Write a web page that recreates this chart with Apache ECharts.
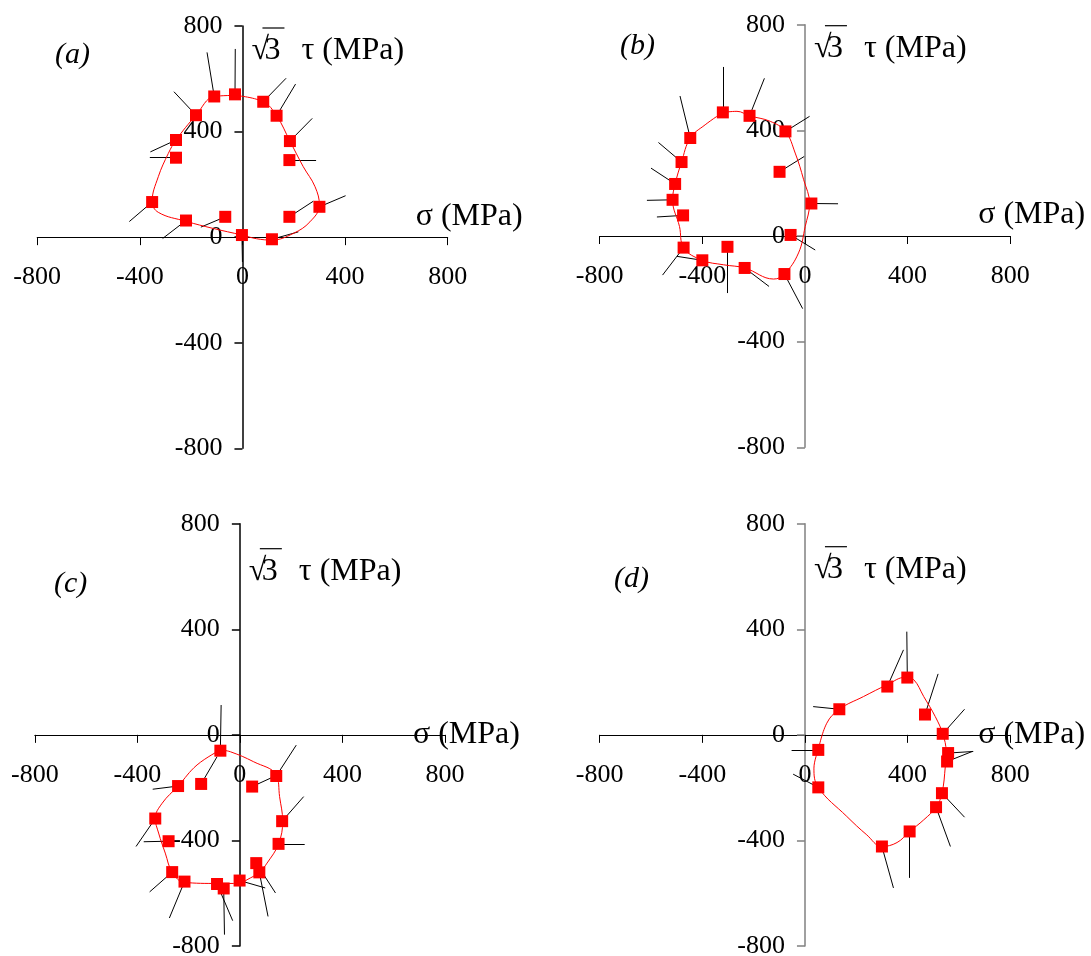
<!DOCTYPE html>
<html>
<head>
<meta charset="utf-8">
<script src="https://cdn.jsdelivr.net/npm/echarts@6/dist/echarts.min.js"></script>
<style>
html,body{margin:0;padding:0;background:#fff;}
#chart{width:1091px;height:956px;}
</style>
</head>
<body>
<div id="chart"></div>
<script>
// ---------- data (σ, √3τ) in MPa ----------
const axisTicks = [-800, -400, 0, 400, 800];
const panelLabels = ['(a)', '(b)', '(c)', '(d)'];

// Panel (a)
const aPoints = [[-29,541],[-110,533],[-181,462],[-259,368],[-259,301],[-352,133],[-220,63],[-67,77],[-2,8],[115,-8],[183,77],[300,115],[183,292],[185,364],[133,460],[81,513]];
const aNormalEnds = [[-28,713],[-138,700],[-267,551],[-359,323],[-361,301],[-441,59],[-311,-5],[-162,38],[0,-94],[218,20],[276,136],[402,157],[287,292],[272,450],[207,580],[170,602]];
const aCurve = [[-29,537],[81,513],[133,460],[185,364],[237,267],[283,191],[300,121],[263,58],[198,14],[115,-11],[55,-6],[-2,8],[-114,33],[-220,60],[-328,94],[-352,135],[-328,229],[-289,317],[-259,368],[-181,462],[-110,533],[-29,537]];

// Panel (b)
const bPoints = [[-320,468],[-216,455],[-76,396],[-99,243],[25,123],[-56,4],[-80,-144],[-235,-121],[-302,-41],[-400,-92],[-473,-44],[-475,78],[-516,137],[-506,197],[-481,280],[-447,371]];
const bNormalEnds = [[-320,640],[-158,597],[18,453],[-3,301],[129,122],[40,-53],[-9,-275],[-140,-191],[-302,-216],[-499,-77],[-555,-148],[-577,72],[-616,135],[-600,257],[-571,354],[-487,530]];
const bCurve = [[-320,468],[-265,472],[-216,455],[-135,434],[-76,396],[-38,314],[-5,213],[18,123],[1,36],[-25,-64],[-80,-144],[-122,-163],[-235,-121],[-317,-109],[-400,-92],[-473,-44],[-489,36],[-516,137],[-506,197],[-481,280],[-447,371],[-389,421],[-320,468]];

// Panel (c)
const cPoints = [[-76,-60],[142,-156],[48,-196],[-151,-186],[-241,-194],[-330,-317],[-278,-403],[165,-327],[151,-413],[64,-486],[76,-521],[-1,-552],[-63,-582],[-89,-565],[-216,-556],[-264,-520]];
const cNormalEnds = [[-73,113],[220,-39],[138,-156],[-89,-83],[-340,-206],[-405,-423],[-375,-405],[249,-234],[253,-413],[139,-599],[110,-688],[99,-580],[-60,-757],[-28,-704],[-275,-694],[-352,-595]];
const cCurve = [[-76,-57],[-37,-64],[54,-102],[142,-152],[155,-234],[167,-327],[151,-413],[106,-486],[76,-521],[28,-549],[-1,-563],[-89,-563],[-216,-559],[-264,-520],[-291,-448],[-317,-372],[-330,-317],[-303,-259],[-241,-194],[-167,-114],[-76,-57]];

// Panel (d)
const dPoints = [[52,-57],[52,-199],[134,97],[321,183],[399,217],[468,77],[537,4],[558,-69],[554,-101],[534,-221],[511,-274],[408,-366],[300,-423]];
const dNormalEnds = [[-52,-57],[-46,-149],[32,107],[384,322],[397,391],[519,231],[622,97],[656,-63],[652,-63],[622,-312],[567,-423],[407,-542],[345,-580]];
const dCurve = [[52,-57],[35,-126],[52,-199],[163,-309],[241,-379],[300,-423],[359,-408],[408,-366],[463,-322],[511,-274],[534,-221],[547,-120],[550,-63],[537,4],[508,69],[463,145],[424,209],[391,218],[321,190],[228,145],[134,97],[85,44],[52,-57]];

// ---------- layout / styling ----------
const FONT = 'Liberation Serif';
const panels = [
  {pts:aPoints, ends:aNormalEnds, curve:aCurve, grid:{left:37.2, top:26, width:410.5, height:422.3}, yAxisColor:'#000', yNameDy:25, xNameLifted:true, lab:{x:55, y:40}},
  {pts:bPoints, ends:bNormalEnds, curve:bCurve, grid:{left:599.7, top:24.7, width:410.5, height:422.6}, yAxisColor:'#808080', yNameDy:24, xNameLifted:true, lab:{x:620, y:31}},
  {pts:cPoints, ends:cNormalEnds, curve:cCurve, grid:{left:34.8, top:523.7, width:410.1, height:422.3}, yAxisColor:'#000', yNameDy:48, xNameLifted:false, lab:{x:54, y:569}},
  {pts:dPoints, ends:dNormalEnds, curve:dCurve, grid:{left:599.7, top:523.7, width:410.5, height:422.3}, yAxisColor:'#808080', yNameDy:46, xNameLifted:false, lab:{x:614, y:564}}
];

const NAME_SIZE = 32;
const NAME_FONT = NAME_SIZE + 'px "' + FONT + '"';
const grids = [], xAxes = [], yAxes = [], series = [], graphics = [];
panels.forEach((p, i) => {
  const g = p.grid;
  grids.push({left:g.left, top:g.top, width:g.width, height:g.height, containLabel:false, outerBoundsMode:'none'});
  xAxes.push({
    type:'value', gridIndex:i, min:axisTicks[0], max:axisTicks[axisTicks.length-1], interval:400,
    position:'bottom', offset:-g.height/2,
    axisLine:{onZero:false, lineStyle:{color:'#000', width:1}},
    axisTick:{show:true, inside:false, length:8, lineStyle:{color:'#000'}},
    axisLabel:{fontFamily:FONT, fontSize:26, color:'#000', margin:27},
    splitLine:{show:false},
    name:'σ (MPa)', nameLocation:'end', nameGap:-32,
    nameTextStyle:p.xNameLifted
      ? {fontFamily:FONT, fontSize:NAME_SIZE, color:'#000', align:'left', verticalAlign:'bottom', lineHeight:42}
      : {fontFamily:FONT, fontSize:NAME_SIZE, color:'#000', align:'left', verticalAlign:'middle'}
  });
  yAxes.push({
    type:'value', gridIndex:i, min:axisTicks[0], max:axisTicks[axisTicks.length-1], interval:400,
    position:'left', offset:-g.width/2,
    axisLine:{onZero:false, lineStyle:{color:p.yAxisColor, width:1.5}},
    axisTick:{show:true, inside:false, length:8, lineStyle:{color:p.yAxisColor, width:1.5}},
    axisLabel:{fontFamily:FONT, fontSize:26, color:'#000', margin:20},
    splitLine:{show:false}
  });
  series.push({
    type:'lines', coordinateSystem:'cartesian2d', xAxisIndex:i, yAxisIndex:i, z:1,
    lineStyle:{color:'#000', width:1, opacity:1}, silent:true,
    data:p.pts.map((pt, k) => ({coords:[pt, p.ends[k]]}))
  });
  series.push({
    type:'line', xAxisIndex:i, yAxisIndex:i, z:2, data:p.curve, smooth:0.4,
    showSymbol:false, symbol:'none', lineStyle:{color:'#ff0000', width:1}, silent:true
  });
  series.push({
    type:'scatter', xAxisIndex:i, yAxisIndex:i, z:3, data:p.pts,
    symbol:'rect', symbolSize:12, itemStyle:{color:'#ff0000', opacity:1}, silent:true
  });
  graphics.push({
    type:'text', left:p.lab.x, top:p.lab.y,
    style:{text:panelLabels[i], font:'italic 30px "' + FONT + '"', fill:'#000'}
  });
  // y-axis name: √3 τ (MPa), with the radical's overline
  const nx = g.left + g.width/2 + 9, ny = g.top + p.yNameDy;
  graphics.push({
    type:'group', x:nx, y:ny, children:[
      {type:'text', x:0, y:0, style:{text:'√', font:NAME_FONT, fill:'#000', verticalAlign:'middle'}},
      {type:'text', x:13, y:0, style:{text:'3', font:NAME_FONT, fill:'#000', verticalAlign:'middle'}},
      {type:'line', shape:{x1:11, y1:-23, x2:33, y2:-23}, style:{stroke:'#000', lineWidth:1.2}},
      {type:'text', x:50, y:0, style:{text:'τ (MPa)', font:NAME_FONT, fill:'#000', verticalAlign:'middle'}}
    ]
  });
});

const chart = echarts.init(document.getElementById('chart'), null, {renderer:'canvas'});
chart.setOption({
  animation:false,
  backgroundColor:'#fff',
  grid:grids, xAxis:xAxes, yAxis:yAxes, series:series, graphic:graphics
});
</script>
</body>
</html>
